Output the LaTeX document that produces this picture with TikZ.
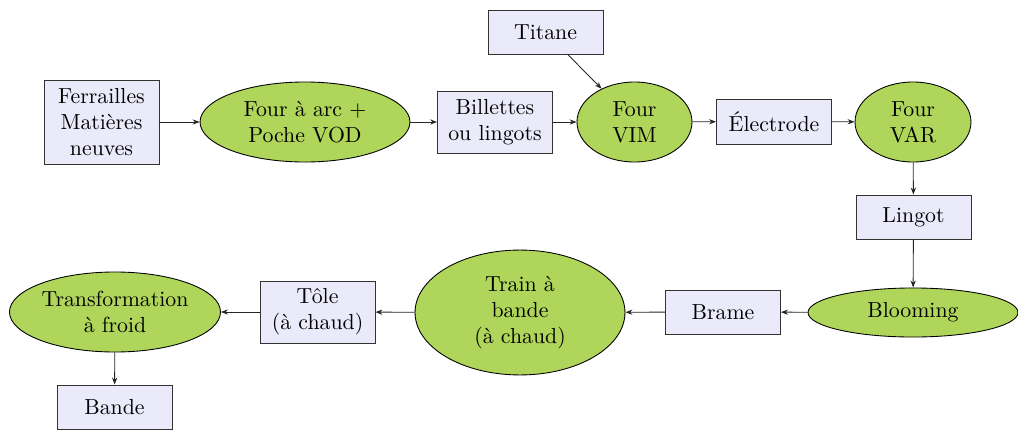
\documentclass[tikz,border=0pt]{standalone}
\usetikzlibrary{shapes.geometric,arrows.meta}
\definecolor{boxfill}{RGB}{234,234,250}
\definecolor{ovalfill}{RGB}{175,214,90}
\definecolor{boxline}{RGB}{50,50,50}
\begin{document}
\begin{tikzpicture}[x=0.4587pt,y=-0.4587pt,
  stepbox/.style={draw=boxline,fill=boxfill,rectangle,inner sep=0pt,align=center,minimum width=52.75pt},
  oval/.style={draw=black,fill=ovalfill,ellipse,inner sep=0pt,align=center},
  flow/.style={-{Stealth[length=3.2pt,width=2.4pt]},line width=0.4pt,draw=black!85}]
\useasboundingbox (0,0) rectangle (1018,431);
\node[stepbox,minimum height=38.5pt] (ferr) at (101.5,122) {Ferrailles\\Matières\\neuves};
\node[oval,minimum width=96.3pt,minimum height=36.7pt] (arc) at (305,122) {Four à arc $+$\\Poche VOD};
\node[stepbox,minimum height=28.4pt] (bill) at (495,122) {Billettes\\ou lingots};
\node[oval,minimum width=52.75pt,minimum height=36.7pt] (vim) at (634.5,122) {Four\\VIM};
\node[stepbox,minimum height=20.2pt] (tit) at (545.5,32) {Titane};
\node[stepbox,minimum height=20.6pt] (elec) at (774,121.5) {Électrode};
\node[oval,minimum width=53.2pt,minimum height=36.7pt] (var) at (913,122) {Four\\VAR};
\node[stepbox,minimum height=20.2pt] (ling) at (913.5,217) {Lingot};
\node[oval,minimum width=96.3pt,minimum height=22.5pt] (bloom) at (913,312.5) {Blooming};
\node[stepbox,minimum height=20.2pt] (brame) at (723,312) {Brame};
\node[oval,minimum width=96.3pt,minimum height=57.3pt] (train) at (520,312.5) {Train à\\bande\\(à chaud)};
\node[stepbox,minimum height=28.4pt] (tole) at (317.5,312) {Tôle\\(à chaud)};
\node[oval,minimum width=96.8pt,minimum height=36.7pt] (trans) at (115,312) {Transformation\\à froid};
\node[stepbox,minimum height=20.2pt] (bande) at (114.5,407) {Bande};
\draw[flow] (ferr) -- (arc);
\draw[flow] (arc) -- (bill);
\draw[flow] (bill) -- (vim);
\draw[flow] (tit) -- (vim);
\draw[flow] (vim) -- (elec);
\draw[flow] (elec) -- (var);
\draw[flow] (var) -- (ling);
\draw[flow] (ling) -- (bloom);
\draw[flow] (bloom) -- (brame);
\draw[flow] (brame) -- (train);
\draw[flow] (train) -- (tole);
\draw[flow] (tole) -- (trans);
\draw[flow] (trans) -- (bande);
\end{tikzpicture}
\end{document}
